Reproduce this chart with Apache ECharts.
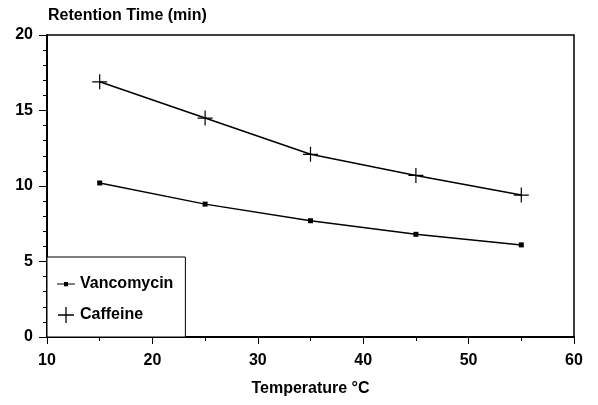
<!DOCTYPE html>
<html>
<head>
<meta charset="utf-8">
<script src="https://cdn.jsdelivr.net/npm/echarts@6/dist/echarts.min.js"></script>
<style>
  html, body { margin: 0; padding: 0; background: #fff; }
  #chart { width: 598px; height: 405px; }
</style>
</head>
<body>
<div id="chart"></div>
<script>
// Retention time vs temperature
const temps = [15, 25, 35, 45, 55];
const vancomycin = [10.2, 8.8, 7.7, 6.8, 6.1];
const caffeine = [16.9, 14.5, 12.1, 10.7, 9.4];

const plusPath = 'path://M4.6,0h0.8v4.6h4.6v0.8h-4.6v4.6h-0.8v-4.6h-4.6v-0.8h4.6z';
const lineSquarePath = 'path://M0,6.6h7v-1.6h4v1.6h7v1h-7v1.6h-4v-1.6h-7z M0,0h0.01v0.01h-0.01z M17.99,13.99h0.01v0.01h-0.01z';
const font = 'Liberation Sans, Arial, sans-serif';

const option = {
  animation: false,
  title: {
    text: 'Retention Time (min)',
    left: 48,
    top: 8,
    padding: 0,
    textStyle: { fontFamily: font, fontSize: 16, fontWeight: 'bold', color: '#000' }
  },
  legend: {
    orient: 'vertical',
    left: 47,
    top: 257,
    padding: [19, 12, 14, 10],
    itemGap: 15,
    itemWidth: 18,
    itemHeight: 16,
    backgroundColor: '#fff',
    borderColor: '#000',
    borderWidth: 1,
    textStyle: { fontFamily: font, fontSize: 16, fontWeight: 'bold', color: '#000' },
    data: [
      { name: 'Vancomycin', icon: lineSquarePath },
      { name: 'Caffeine', icon: plusPath }
    ]
  },
  grid: {
    left: 47,
    right: 24,
    top: 35,
    bottom: 68,
    show: true,
    borderColor: '#000',
    borderWidth: 1.5
  },
  xAxis: {
    type: 'value',
    min: 10,
    max: 60,
    interval: 10,
    name: 'Temperature °C',
    nameLocation: 'middle',
    nameGap: 44,
    nameTextStyle: { fontFamily: font, fontSize: 16, fontWeight: 'bold', color: '#000' },
    axisLine: { lineStyle: { color: '#000', width: 2 } },
    axisTick: { show: true, length: 7, lineStyle: { color: '#000', width: 1 } },
    minorTick: { show: true, splitNumber: 2, length: 4, lineStyle: { color: '#000', width: 1 } },
    splitLine: { show: false },
    axisLabel: { fontFamily: font, fontSize: 16, fontWeight: 'bold', color: '#000', margin: 16 }
  },
  yAxis: {
    type: 'value',
    min: 0,
    max: 20,
    interval: 5,
    axisLine: { show: true, lineStyle: { color: '#000', width: 2 } },
    axisTick: { show: true, length: 8, lineStyle: { color: '#000', width: 1 } },
    minorTick: { show: true, splitNumber: 5, length: 4, lineStyle: { color: '#000', width: 1 } },
    splitLine: { show: false },
    axisLabel: { fontFamily: font, fontSize: 16, fontWeight: 'bold', color: '#000', margin: 14 }
  },
  series: [
    {
      name: 'Vancomycin',
      type: 'line',
      data: temps.map((t, i) => [t, vancomycin[i]]),
      symbol: 'rect',
      symbolSize: 5,
      lineStyle: { color: '#000', width: 1.5 },
      itemStyle: { color: '#000' }
    },
    {
      name: 'Caffeine',
      type: 'line',
      data: temps.map((t, i) => [t, caffeine[i]]),
      symbol: plusPath,
      symbolSize: 15,
      lineStyle: { color: '#000', width: 1.5 },
      itemStyle: { color: '#000' }
    }
  ]
};

const chart = echarts.init(document.getElementById('chart'));
chart.setOption(option);
window.addEventListener('resize', () => chart.resize());
</script>
</body>
</html>
